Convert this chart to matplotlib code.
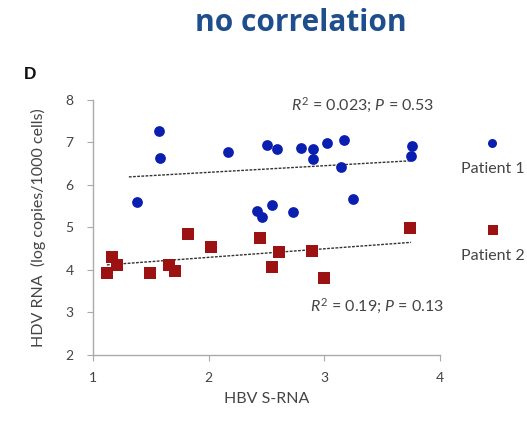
import numpy as np
import matplotlib.pyplot as plt

plt.rcParams['font.family'] = ['Lato', 'DejaVu Sans']
plt.rcParams['mathtext.fontset'] = 'custom'
plt.rcParams['mathtext.it'] = 'Lato:italic'
plt.rcParams['mathtext.rm'] = 'Lato'

# Patient 1 (blue circles)
p1_x = [1.38, 1.57, 1.58, 2.17, 2.42, 2.46, 2.50, 2.55, 2.59, 2.73, 2.80, 2.90, 2.90,
        3.02, 3.17, 3.14, 3.25, 3.75, 3.76]
p1_y = [5.59, 7.27, 6.64, 6.78, 5.39, 5.24, 6.94, 5.53, 6.84, 5.37, 6.86, 6.84, 6.60,
        6.98, 7.06, 6.43, 5.67, 6.68, 6.92]

# Patient 2 (red squares)
p2_x = [1.12, 1.16, 1.21, 1.49, 1.66, 1.71, 1.82, 2.02, 2.44, 2.55, 2.61, 2.89, 3.00, 3.74]
p2_y = [3.94, 4.31, 4.11, 3.92, 4.11, 3.98, 4.85, 4.55, 4.75, 4.06, 4.42, 4.44, 3.81, 4.98]

# trend lines as drawn (x range, y at ends)
trend1_x = [1.31, 3.75]
trend1_y = [6.19, 6.57]
trend2_x = [1.12, 3.75]
trend2_y = [4.12, 4.65]

xticks = [1, 2, 3, 4]
yticks = [2, 3, 4, 5, 6, 7, 8]

blue = '#0a1fb0'
red = '#9c1212'
grey = '#444444'

fig = plt.figure(figsize=(5.27, 4.26), dpi=100)
ax = fig.add_axes([0.1765, 0.1667, 0.6584, 0.5986])

ax.plot(trend1_x, trend1_y, ls=(0, (2, 1)), color='#333333', lw=1.0)
ax.plot(trend2_x, trend2_y, ls=(0, (2, 1)), color='#333333', lw=1.0)
ax.scatter(p1_x, p1_y, s=60, marker='o', color=blue, zorder=3, linewidths=0)
ax.scatter(p2_x, p2_y, s=70, marker='s', color=red, zorder=3, linewidths=0)

ax.set_xlim(1, 4)
ax.set_ylim(2, 8)
ax.set_xticks(xticks)
ax.set_yticks(yticks)
for s in ['top', 'right']:
    ax.spines[s].set_visible(False)
for s in ['left', 'bottom']:
    ax.spines[s].set_color('#aaaaaa')
    ax.spines[s].set_linewidth(1.0)
ax.tick_params(colors='#aaaaaa', labelcolor=grey, labelsize=10, length=4)
ax.tick_params(axis='x', pad=8)
ax.tick_params(axis='y', pad=10)

ax.set_xlabel('HBV S-RNA', fontsize=11.5, color=grey, labelpad=6)
ax.set_ylabel('HDV RNA  (log copies/1000 cells)', fontsize=11.5, color=grey, labelpad=14)

ax.text(3.95, 7.88, r'$R^2$ = 0.023; $P$ = 0.53', ha='right', va='center',
        fontsize=11.5, color=grey)
ax.text(4.03, 3.15, r'$R^2$ = 0.19; $P$ = 0.13', ha='right', va='center',
        fontsize=11.5, color=grey)

fig.text(0.57, 0.945, 'no correlation', ha='center', va='center',
         fontsize=21.5, fontweight='bold', color='#1f4e8c', family='Open Sans')
fig.text(0.057, 0.824, 'D', ha='center', va='center', fontsize=12.5,
         fontweight='bold', color='#111111', family='Liberation Sans')

# legend drawn at the right edge, in figure fractions
lax = fig.add_axes([0, 0, 1, 1])
lax.set_xlim(0, 1)
lax.set_ylim(0, 1)
lax.axis('off')
lax.scatter([0.933], [0.665], s=42, marker='o', color=blue, linewidths=0)
lax.scatter([0.935], [0.460], s=45, marker='s', color=red, linewidths=0)
lax.text(0.875, 0.603, 'Patient 1', fontsize=11.5, color=grey, va='center')
lax.text(0.875, 0.400, 'Patient 2', fontsize=11.5, color=grey, va='center')

fig.savefig('out.png', dpi=100)
